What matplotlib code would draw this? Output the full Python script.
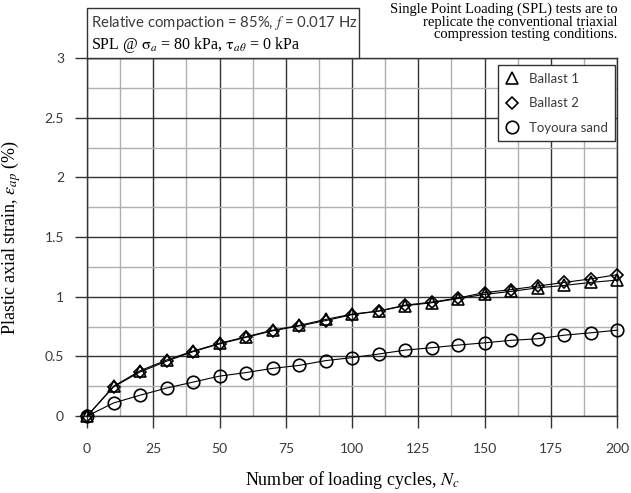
import numpy as np
import matplotlib
matplotlib.use("Agg")
import matplotlib.pyplot as plt
from matplotlib.patches import Rectangle
from matplotlib.ticker import MultipleLocator

plt.rcParams["mathtext.fontset"] = "stix"

# plastic axial strain (%) every 10 loading cycles
cycles = [0, 10, 20, 30, 40, 50, 60, 70, 80, 90, 100,
          110, 120, 130, 140, 150, 160, 170, 180, 190, 200]
ballast_1 = [0, 0.25, 0.38, 0.47, 0.545, 0.61, 0.665, 0.72, 0.76, 0.81, 0.855,
             0.88, 0.925, 0.95, 0.985, 1.02, 1.045, 1.075, 1.095, 1.12, 1.14]
ballast_2 = [0, 0.245, 0.37, 0.46, 0.54, 0.605, 0.66, 0.715, 0.755, 0.80, 0.85,
             0.88, 0.93, 0.955, 0.99, 1.035, 1.06, 1.09, 1.12, 1.15, 1.185]
toyoura = [0, 0.11, 0.175, 0.235, 0.285, 0.335, 0.365, 0.40, 0.425, 0.465, 0.49,
           0.52, 0.553, 0.573, 0.595, 0.614, 0.635, 0.648, 0.678, 0.698, 0.72]

x_ticks = [0, 25, 50, 75, 100, 125, 150, 175, 200]
y_ticks = [0, 0.5, 1, 1.5, 2, 2.5, 3]

sans = "Lato"
serif = "Liberation Serif"
tick_col = "#3a3a3a"

fig = plt.figure(figsize=(6.31, 4.93), dpi=100)
ax = fig.add_axes([0.138, 0.156, 0.840, 0.726])

ax.plot(cycles, ballast_1, color="black", lw=0.8, marker="^", ms=8,
        fillstyle="none", mew=1.2, label="Ballast 1", zorder=3, clip_on=False)
ax.plot(cycles, ballast_2, color="black", lw=0.8, marker="D", ms=6.5,
        fillstyle="none", mew=1.2, label="Ballast 2", zorder=3, clip_on=False)
ax.plot(cycles, toyoura, color="black", lw=0.8, marker="o", ms=9,
        fillstyle="none", mew=1.2, label="Toyoura sand", zorder=3, clip_on=False)

ax.set_xlim(0, 200)
ax.set_ylim(0, 3)
ax.set_xticks(x_ticks)
ax.set_yticks(y_ticks)
ax.set_xticklabels([str(v) for v in x_ticks])
ax.set_yticklabels([f"{v:g}" for v in y_ticks])
ax.xaxis.set_minor_locator(MultipleLocator(12.5))
ax.yaxis.set_minor_locator(MultipleLocator(0.25))

ax.grid(which="major", color="#333333", lw=1.0, zorder=0)
ax.grid(which="minor", color="#b0b0b0", lw=1.0, zorder=0)
ax.set_axisbelow(True)
for s in ax.spines.values():
    s.set_color("#333333")
    s.set_linewidth(1.0)

ax.tick_params(which="major", direction="out", length=8.6, width=1.0,
               color="#333333", labelcolor=tick_col, labelsize=10)
ax.tick_params(axis="x", which="major", pad=11)
ax.tick_params(axis="y", which="major", pad=8)
ax.tick_params(which="minor", length=0)
for lab in ax.get_xticklabels() + ax.get_yticklabels():
    lab.set_fontfamily(sans)

ax.set_xlabel("Number of loading cycles, $N_c$", fontsize=13, family=serif)
ax.set_ylabel(r"Plastic axial strain, $\varepsilon_{ap}$ (%)", fontsize=13, family=serif)
ax.xaxis.set_label_coords(0.5, -0.148)
ax.yaxis.set_label_coords(-0.121, 0.5)

leg = ax.legend(loc="upper right", bbox_to_anchor=(0.996, 0.98), borderaxespad=0,
                fancybox=False, framealpha=1, edgecolor="#333333",
                prop={"family": sans, "size": 9.5}, handlelength=1.0,
                handletextpad=0.8, labelspacing=0.95, borderpad=0.55)
leg.set_zorder(10)
for h in leg.get_lines():
    h.set_linestyle("none")
leg.get_frame().set_linewidth(1.0)
for t in leg.get_texts():
    t.set_color(tick_col)

# test condition box above the axes
fig.add_artist(Rectangle((0.138, 0.882), 0.431, 0.102, transform=fig.transFigure,
                         facecolor="white", edgecolor="#333333", lw=1.0, zorder=5))
fig.text(0.144, 0.953, "Relative compaction = 85%, $\\mathit{f}$ = 0.017 Hz",
         family=sans, fontsize=10.7, color=tick_col, va="center", zorder=6)
fig.text(0.144, 0.908, r"SPL @ $\mathrm{\sigma}_a$ = 80 kPa, $\mathrm{\tau}_{a\theta}$ = 0 kPa",
         family=serif, fontsize=11.5, color="black", va="center", zorder=6)

fig.text(0.979, 0.994, "Single Point Loading (SPL) tests are to\n"
         "replicate the conventional triaxial\ncompression testing conditions.",
         family=serif, fontsize=10.5, ha="right", va="top", linespacing=0.95)

fig.savefig("out.png", dpi=100)
